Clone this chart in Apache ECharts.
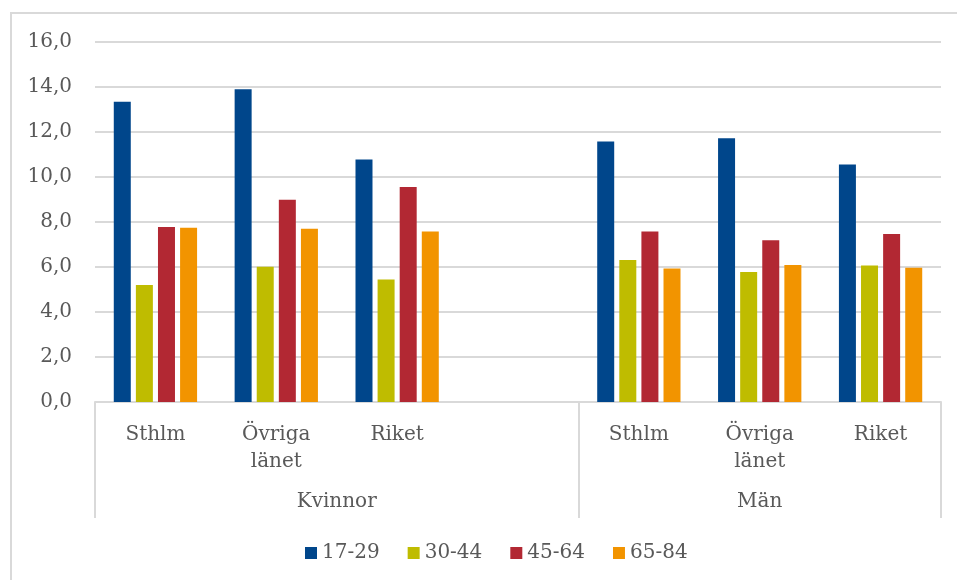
<!DOCTYPE html>
<html><head><meta charset="utf-8">
<script src="https://cdn.jsdelivr.net/npm/echarts@6/dist/echarts.min.js"></script>
<style>
html,body{margin:0;padding:0;background:#fff;}
#frame{position:absolute;left:10px;top:12px;width:960px;height:600px;border-top:2px solid #d9d9d9;border-left:2px solid #d9d9d9;box-sizing:border-box;}
#c{position:absolute;left:0;top:0;width:957px;height:580px;}
</style></head>
<body>
<div id="frame"></div>
<div id="c"></div>
<script>
const categories = ['Sthlm', 'Övriga\nlänet', 'Riket', '', 'Sthlm', 'Övriga\nlänet', 'Riket'];
const groups = ['Kvinnor', 'Män'];
const seriesNames = ['17-29', '30-44', '45-64', '65-84'];
const v17_29 = [13.35, 13.9, 10.78, null, 11.58, 11.72, 10.56];
const v30_44 = [5.2, 6.01, 5.44, null, 6.31, 5.78, 6.07];
const v45_64 = [7.78, 8.99, 9.56, null, 7.58, 7.19, 7.47];
const v65_84 = [7.75, 7.7, 7.58, null, 5.93, 6.09, 5.97];
const colors = ['#00468B', '#BFBC00', '#B22833', '#F29400'];

const font = 'DejaVu Serif';
const txt = '#595959';
const fs = 20;
const chart = echarts.init(document.getElementById('c'));
const dataSets = [v17_29, v30_44, v45_64, v65_84];
chart.setOption({
  animation: false,
  color: colors,
  grid: { left: 95, right: 16, top: 42, bottom: 178 },
  legend: {
    bottom: 12, left: 300,
    itemWidth: 12, itemHeight: 12, itemGap: 28,
    icon: 'rect',
    textStyle: { fontFamily: font, fontSize: fs, color: txt },
    data: seriesNames
  },
  xAxis: [{
    type: 'category',
    data: categories,
    axisLine: { lineStyle: { color: '#d9d9d9', width: 2 } },
    axisTick: { show: false },
    axisLabel: { fontFamily: font, fontSize: fs, color: txt, margin: 19, lineHeight: 27, interval: 0 }
  }, {
    type: 'value',
    position: 'bottom',
    min: 0, max: 7,
    axisLine: { show: false },
    splitLine: { show: false },
    axisTick: { show: true, customValues: [0, 4, 7], length: 116, lineStyle: { color: '#d9d9d9', width: 2 } },
    axisLabel: {
      customValues: [2, 5.5],
      formatter: v => (v < 4 ? groups[0] : groups[1]),
      fontFamily: font, fontSize: fs, color: txt, margin: 90
    }
  }],
  yAxis: {
    type: 'value',
    min: 0, max: 16, interval: 2,
    axisLine: { show: false },
    axisTick: { show: false },
    splitLine: { lineStyle: { color: '#d9d9d9', width: 2 } },
    axisLabel: {
      fontFamily: font, fontSize: fs, color: txt, margin: 23,
      formatter: v => v.toFixed(1).replace('.', ',')
    }
  },
  series: seriesNames.map((n, i) => ({
    name: n, type: 'bar', xAxisIndex: 0,
    data: dataSets[i],
    barWidth: 17, barGap: '30%',
    itemStyle: { color: colors[i] }
  }))
});
</script>
</body></html>
